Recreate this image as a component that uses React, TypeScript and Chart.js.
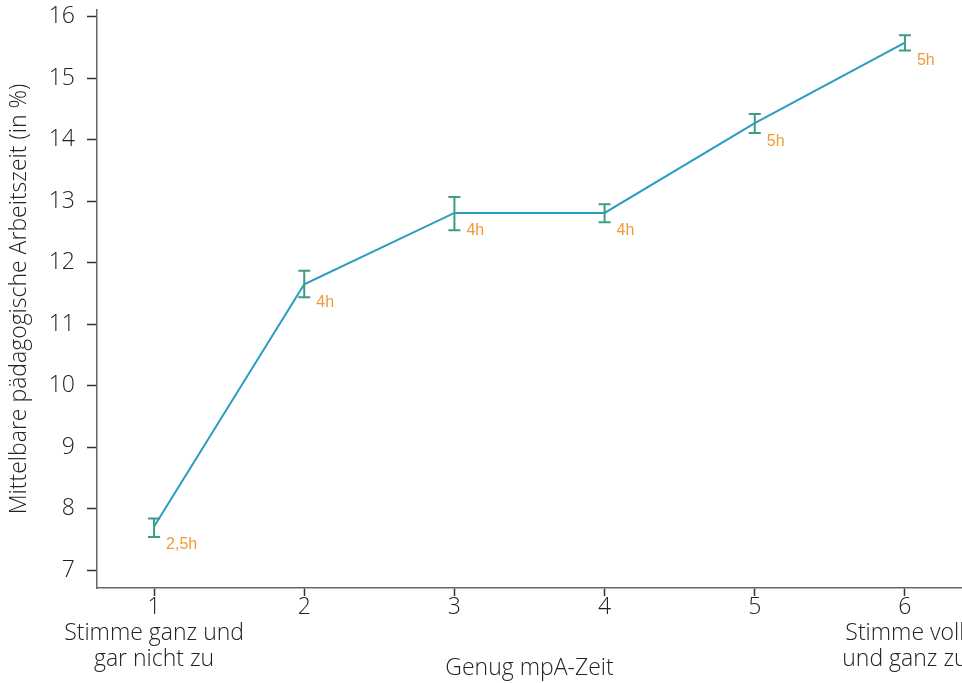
import React, { useEffect, useRef } from "react";
import { Chart, registerables } from "chart.js";

Chart.register(...registerables);

const categories = [1, 2, 3, 4, 5, 6];
const tickLabels = [
  ["1", "Stimme ganz und", "gar nicht zu"],
  ["2"],
  ["3"],
  ["4"],
  ["5"],
  ["6", "Stimme voll", "und ganz zu"],
];
const means = [7.71, 11.65, 12.81, 12.81, 14.27, 15.58];
const upper = [7.84, 11.87, 13.07, 12.95, 14.42, 15.7];
const lower = [7.54, 11.44, 12.53, 12.66, 14.11, 15.45];
const hourLabels = ["2,5h", "4h", "4h", "4h", "5h", "5h"];
const yTicks = [7, 8, 9, 10, 11, 12, 13, 14, 15, 16];

const FONT = "'Open Sans'";
const FS = 23;

const errorBarPlugin = {
  id: "errorBars",
  afterDatasetsDraw(chart: any) {
    const { ctx, scales } = chart;
    const xs = scales.x;
    const ys = scales.y;
    ctx.save();
    ctx.strokeStyle = "#3a9e84";
    ctx.lineWidth = 2;
    categories.forEach((c, i) => {
      const x = xs.getPixelForValue(c);
      const yt = ys.getPixelForValue(upper[i]);
      const yb = ys.getPixelForValue(lower[i]);
      ctx.beginPath();
      ctx.moveTo(x, yt);
      ctx.lineTo(x, yb);
      ctx.moveTo(x - 6, yt);
      ctx.lineTo(x + 6, yt);
      ctx.moveTo(x - 6, yb);
      ctx.lineTo(x + 6, yb);
      ctx.stroke();
    });
    ctx.fillStyle = "#f29a35";
    ctx.font = "16px 'Liberation Sans', Arial, sans-serif";
    ctx.textAlign = "left";
    ctx.textBaseline = "middle";
    categories.forEach((c, i) => {
      const x = xs.getPixelForValue(c);
      const y = ys.getPixelForValue(means[i]);
      ctx.fillText(hourLabels[i], x + 12, y + 18);
    });
    ctx.restore();
  },
};

export default function App() {
  const ref = useRef<HTMLCanvasElement | null>(null);
  useEffect(() => {
    document.body.style.margin = "0";
    const canvas = ref.current!;
    const chart = new Chart(canvas, {
      type: "line",
      data: {
        datasets: [
          {
            data: categories.map((c, i) => ({ x: c, y: means[i] })),
            borderColor: "#2b9cc1",
            borderWidth: 2,
            pointRadius: 0,
            tension: 0,
            fill: false,
          },
        ],
      },
      options: {
        responsive: false,
        animation: false,
        layout: { padding: { top: 10, right: 0, left: 0, bottom: 0 } },
        plugins: { legend: { display: false }, tooltip: { enabled: false } },
        scales: {
          x: {
            type: "linear",
            min: 0.62,
            max: 6.38,
            afterBuildTicks: (s: any) => {
              s.ticks = categories.map((v) => ({ value: v }));
            },
            afterFit: (s: any) => {
              s.height = 95;
              s.paddingLeft = 0;
              s.paddingRight = 0;
            },
            border: { color: "#666", width: 1.5 },
            grid: {
              drawOnChartArea: false,
              drawTicks: true,
              tickLength: 8,
              tickColor: "#333",
              tickWidth: 1.5,
            },
            ticks: {
              autoSkip: false,
              maxRotation: 0,
              padding: -2,
              color: "#222",
              font: { family: FONT, size: FS, weight: "300", lineHeight: 1.13 },
              callback: (v: any) => {
                const i = categories.indexOf(Number(v));
                return i >= 0 ? tickLabels[i] : "";
              },
            },
            title: {
              display: true,
              text: "Genug mpA-Zeit",
              color: "#222",
              font: { family: FONT, size: FS, weight: "300" },
              padding: { top: 0, bottom: 1 },
            },
          },
          y: {
            type: "linear",
            min: 6.71,
            max: 16.11,
            afterBuildTicks: (s: any) => {
              s.ticks = yTicks.map((v) => ({ value: v }));
            },
            afterFit: (s: any) => {
              s.width = 97;
              s.paddingTop = 0;
              s.paddingBottom = 0;
            },
            border: { color: "#666", width: 1.5 },
            grid: {
              drawOnChartArea: false,
              drawTicks: true,
              tickLength: 10,
              tickColor: "#333",
              tickWidth: 1.5,
            },
            ticks: {
              padding: 12,
              color: "#222",
              font: { family: FONT, size: FS, weight: "300" },
            },
            title: {
              display: true,
              text: "Mittelbare pädagogische Arbeitszeit (in %)",
              color: "#222",
              font: { family: FONT, size: FS, weight: "300" },
              padding: { top: 6, bottom: 0 },
            },
          },
        },
      } as any,
      plugins: [errorBarPlugin],
    });
    return () => chart.destroy();
  }, []);
  return <canvas ref={ref} width={962} height={683} style={{ display: "block" }} />;
}
